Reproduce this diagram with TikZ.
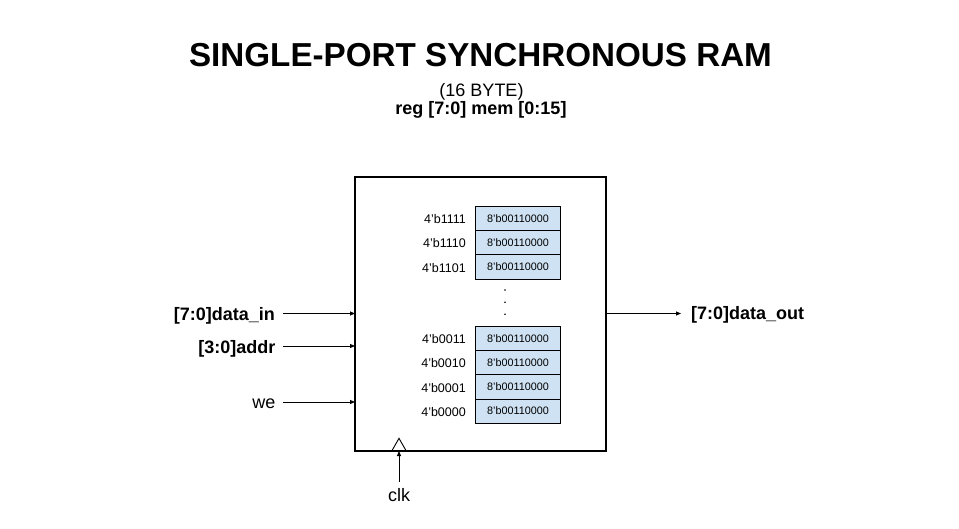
\documentclass[tikz,border=0pt]{standalone}
\usepackage{fontspec}
\setmainfont{Liberation Sans}
\usetikzlibrary{arrows.meta}
\definecolor{cellblue}{HTML}{CFE2F3}
\begin{document}
\begin{tikzpicture}[x=1pt,y=-1pt,
  sig/.style={line width=0.9pt,-{Triangle[length=5pt,width=4pt]}},
  cell/.style={draw=black,line width=0.8pt,fill=cellblue,minimum width=85pt,minimum height=24.3pt,inner sep=0pt,outer sep=0pt,font=\fontsize{10.8}{12}\selectfont},
  addrlbl/.style={anchor=base east,inner sep=0pt,font=\fontsize{12.5}{14}\selectfont},
  siglbl/.style={inner sep=0pt,font=\fontsize{18}{20}\selectfont\bfseries},
  plainlbl/.style={inner sep=0pt,font=\fontsize{18}{20}\selectfont},
  memdot/.style={fill=black,draw=none}
]
\useasboundingbox (0,0) rectangle (959,528);
\fill[white] (0,0) rectangle (959,528);

% titles
\node[anchor=base,inner sep=0pt,font=\fontsize{33.2}{40}\selectfont\bfseries] (title) at (480.5,66) {SINGLE-PORT SYNCHRONOUS RAM};
\node[anchor=base,plainlbl] (sub) at (481.5,96) {(16 BYTE)};
\node[anchor=base,siglbl] (decl) at (481,114) {reg [7:0] mem [0:15]};

% main box
\node[draw=black,line width=2pt,minimum width=251pt,minimum height=274pt,inner sep=0pt,outer sep=0pt,anchor=north west] (ram) at (355,177) {};

% memory cells (top group)
\node[cell,anchor=north west] (m15) at (475.5,206) {8'b00110000};
\node[cell,anchor=north] (m14) at (m15.south) {8'b00110000};
\node[cell,anchor=north] (m13) at (m14.south) {8'b00110000};
% bottom group
\node[cell,anchor=north west] (m3) at (475.5,326) {8'b00110000};
\node[cell,anchor=north] (m2) at (m3.south) {8'b00110000};
\node[cell,anchor=north] (m1) at (m2.south) {8'b00110000};
\node[cell,anchor=north] (m0) at (m1.south) {8'b00110000};

% address labels
\foreach \c/\t in {m15/4'b1111,m14/4'b1110,m13/4'b1101,m3/4'b0011,m2/4'b0010,m1/4'b0001,m0/4'b0000}{
  \node[addrlbl] (a\c) at ([xshift=-9.5pt,yshift=-5.4pt]\c.west) {\t};
}

% dots
\fill[memdot] (505,290) circle (0.9pt);
\fill[memdot] (505,302.3) circle (0.9pt);
\fill[memdot] (505,314.3) circle (0.9pt);

% input signals
\node[siglbl,anchor=base east] (din) at (275,320) {[7:0]data\_in};
\node[siglbl,anchor=base east] (addr) at (275.5,353) {[3:0]addr};
\node[plainlbl,anchor=base east] (we) at (275.5,408) {we};
\coordinate (dinS) at (283,313.5);
\coordinate (addrS) at (283,346);
\coordinate (weS) at (283,402);
\draw[sig] (dinS) -- (dinS -| ram.west);
\draw[sig] (addrS) -- (addrS -| ram.west);
\draw[sig] (weS) -- (weS -| ram.west);

% output
\node[siglbl,anchor=base west] (dout) at (691,319.5) {[7:0]data\_out};
\coordinate (doutE) at (681,313.5);
\draw[sig] (doutE -| ram.east) -- (doutE);

% clock
\coordinate (clkA) at (399,438.3);
\draw[line width=0.9pt,line join=miter] (392.3,450) -- (clkA) -- (405.7,450);
\node[plainlbl,anchor=base] (clk) at (399,501) {clk};
\coordinate (clkS) at (399,482);
\draw[sig] (clkS) -- (clkS |- ram.south);
\end{tikzpicture}
\end{document}
